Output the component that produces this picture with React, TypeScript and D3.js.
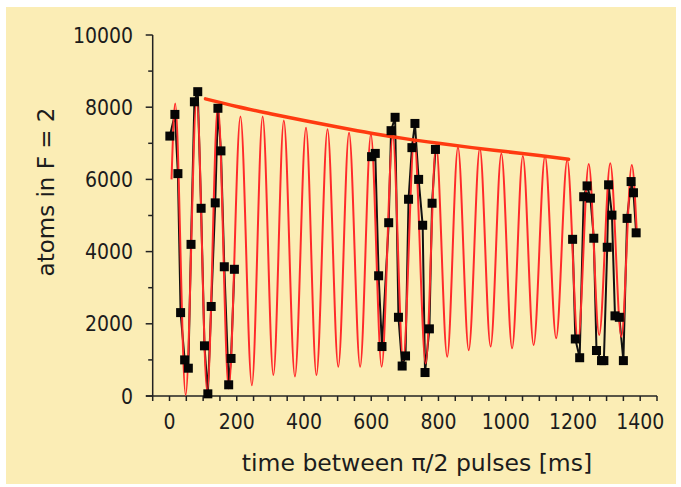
import React from 'react';
import * as d3 from 'd3';

const W = 681;
const H = 487;

// axis ticks
const xMajorTicks = [0, 200, 400, 600, 800, 1000, 1200, 1400];
const xMinorTicks = d3.range(-50, 1451, 50);
const yMajorTicks = [0, 2000, 4000, 6000, 8000, 10000];
const yMinorTicks = [1000, 3000, 5000, 7000, 9000];

// red fit curve: extrema (ms, atoms)
const fitTimes = [6, 17, 48, 81, 112, 144, 176, 211, 245, 277, 309, 340, 373, 406, 437, 470, 502, 534, 567, 599, 631, 664, 695, 728, 762, 793, 826, 858, 890, 923, 955, 987, 1019, 1051, 1083, 1117, 1150, 1183, 1215, 1247, 1278, 1311, 1344, 1375, 1390];
const fitValues = [6000, 8100, 30, 8240, 120, 8060, 210, 7740, 300, 7740, 580, 7630, 540, 7430, 580, 7390, 810, 7290, 810, 7250, 810, 7180, 1000, 7090, 900, 6950, 1090, 6890, 1270, 6860, 1370, 6720, 1320, 6650, 1410, 6650, 1600, 6540, 1500, 6430, 1690, 6450, 1640, 6400, 4500];

// thick envelope line
const envTimes = [107, 200, 300, 400, 500, 600, 700, 800, 900, 1000, 1100, 1187];
const envValues = [8230, 8020, 7820, 7630, 7450, 7280, 7130, 7000, 6880, 6770, 6660, 6560];

// measured data, three groups
const g1Times = [1, 16, 25, 33, 45, 56, 64, 74, 84, 94, 104, 114, 124, 136, 144, 153, 163, 176, 183, 193];
const g1Values = [7200, 7800, 6160, 2310, 1000, 770, 4200, 8150, 8430, 5200, 1390, 60, 2480, 5350, 7970, 6790, 3580, 310, 1040, 3510];

const g2Times = [601, 612, 622, 632, 652, 659, 671, 681, 692, 702, 711, 721, 730, 741, 753, 760, 773, 781, 791];
const g2Values = [6630, 6720, 3330, 1370, 4800, 7350, 7720, 2180, 830, 1110, 5450, 6880, 7550, 6000, 4730, 650, 1860, 5340, 6830];

const g3Times = [1199, 1207, 1220, 1232, 1242, 1252, 1262, 1270, 1285, 1292, 1302, 1306, 1316, 1325, 1338, 1350, 1361, 1373, 1380, 1388];
const g3Values = [4340, 1580, 1060, 5520, 5820, 5480, 4370, 1260, 980, 980, 4120, 5850, 5010, 2220, 2180, 980, 4920, 5940, 5630, 4520];

const FONT_C = "'DejaVu Sans Condensed', 'DejaVu Sans', sans-serif";
const FONT = "'DejaVu Sans', sans-serif";
const TEXT = '#1c1c1c';

export default function App() {
  const x = d3.scaleLinear().domain([-50, 1450]).range([152.7, 657]);
  const y = d3.scaleLinear().domain([0, 10000]).range([396, 35]);

  const line = d3
    .line<[number, number]>()
    .x((d) => x(d[0]))
    .y((d) => y(d[1]));
  const smooth = d3
    .line<[number, number]>()
    .x((d) => x(d[0]))
    .y((d) => y(d[1]))
    .curve(d3.curveMonotoneX);

  const fit: [number, number][] = fitTimes.map((t, i) => [t, fitValues[i]]);
  const env: [number, number][] = envTimes.map((t, i) => [t, envValues[i]]);
  const groups: [number, number][][] = [
    g1Times.map((t, i) => [t, g1Values[i]] as [number, number]),
    g2Times.map((t, i) => [t, g2Values[i]] as [number, number]),
    g3Times.map((t, i) => [t, g3Values[i]] as [number, number]),
  ];

  const axisColor = '#222';
  const x0 = x(-50);
  const y0 = y(0);
  const sq = 9;

  return (
    <svg
      width={W}
      height={H}
      style={{ position: 'absolute', left: 0, top: 0, background: '#ffffff' }}
    >
      <rect x={6} y={7} width={670} height={477} fill="#FBEDB5" />

      {/* y axis */}
      <line x1={x0} x2={x0} y1={y(10000)} y2={y0} stroke={axisColor} strokeWidth={1.5} />
      {yMajorTicks.map((t) => (
        <g key={'ym' + t}>
          <line x1={x0 - 7} x2={x0} y1={y(t)} y2={y(t)} stroke={axisColor} strokeWidth={1.5} />
          <text
            x={133}
            y={y(t)}
            dy="0.36em"
            textAnchor="end"
            fontFamily={FONT_C}
            fontStretch="condensed"
            fontSize={21}
            fill={TEXT}
          >
            {t}
          </text>
        </g>
      ))}
      {yMinorTicks.map((t) => (
        <line key={'yn' + t} x1={x0 - 4.5} x2={x0} y1={y(t)} y2={y(t)} stroke={axisColor} strokeWidth={1.5} />
      ))}

      {/* x axis */}
      <line x1={146} x2={x(1450)} y1={y0} y2={y0} stroke={axisColor} strokeWidth={1.5} />
      {xMinorTicks.map((t) => (
        <line key={'xn' + t} x1={x(t)} x2={x(t)} y1={y0} y2={y0 + 5} stroke={axisColor} strokeWidth={1.5} />
      ))}
      {xMajorTicks.map((t) => (
        <text
          key={'xl' + t}
          x={x(t)}
          y={429}
          textAnchor="middle"
          fontFamily={FONT_C}
          fontStretch="condensed"
          fontSize={21}
          fill={TEXT}
        >
          {t}
        </text>
      ))}

      {/* axis titles */}
      <text
        x={417}
        y={471}
        textAnchor="middle"
        fontFamily={FONT}
        fontSize={23.5}
        fill={TEXT}
      >
        time between π/2 pulses [ms]
      </text>
      <text
        transform={`translate(54,192) rotate(-90)`}
        textAnchor="middle"
        fontFamily={FONT}
        fontSize={23}
        fill={TEXT}
      >
        atoms in F = 2
      </text>

      {/* data connecting lines */}
      {groups.map((g, i) => (
        <path key={'gl' + i} d={line(g) || ''} fill="none" stroke="#111" strokeWidth={2} />
      ))}

      {/* fit curve */}
      <path d={smooth(fit) || ''} fill="none" stroke="#FF2A2A" strokeWidth={2} />

      {/* envelope */}
      <path d={smooth(env) || ''} fill="none" stroke="#FF3A10" strokeWidth={3.5} strokeLinecap="round" />

      {/* data squares */}
      {groups.map((g, i) =>
        g.map((d, j) => (
          <rect
            key={'sq' + i + '-' + j}
            x={x(d[0]) - sq / 2}
            y={y(d[1]) - sq / 2}
            width={sq}
            height={sq}
            fill="#050505"
          />
        ))
      )}
    </svg>
  );
}
